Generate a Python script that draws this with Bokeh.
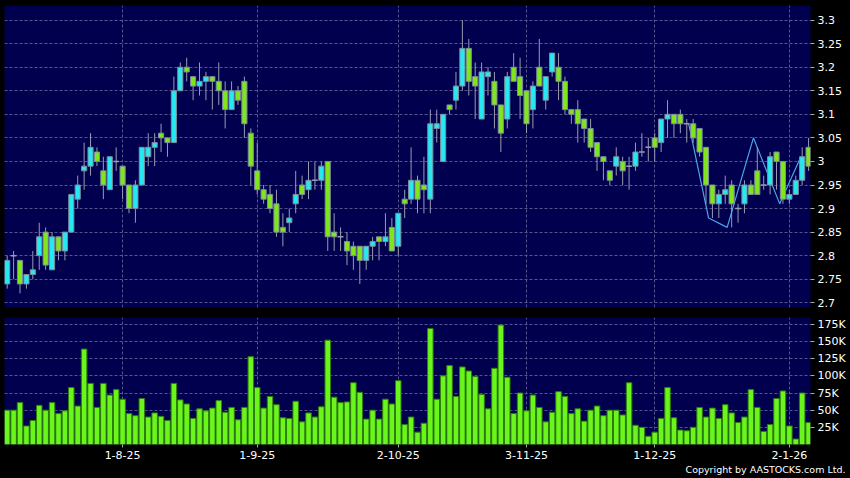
from bokeh.plotting import figure
from bokeh.layouts import column
from bokeh.models import FixedTicker, ColumnDataSource, Title, Range1d
from bokeh.embed import file_html
from bokeh.resources import INLINE

# ---------------- data ----------------
open_ = [2.74, 2.80, 2.79, 2.74, 2.76, 2.80, 2.85, 2.77, 2.84, 2.81,
         2.85, 2.92, 2.98, 2.99, 3.02, 2.98, 2.94, 3.00, 2.99, 2.95,
         2.90, 2.95, 3.01, 3.03, 3.06, 3.05, 3.04, 3.15, 3.20, 3.18,
         3.16, 3.17, 3.18, 3.17, 3.15, 3.11, 3.15, 3.17, 3.06, 2.98,
         2.94, 2.93, 2.91, 2.86, 2.87, 2.91, 2.95, 2.94, 2.96, 2.96,
         3.00, 2.85, 2.84, 2.83, 2.82, 2.82, 2.79, 2.82, 2.84, 2.83,
         2.86, 2.82, 2.92, 2.92, 2.96, 2.95, 2.92, 3.07, 3.00, 3.12,
         3.13, 3.16, 3.24, 3.18, 3.09, 3.18, 3.17, 3.12, 3.09, 3.20,
         3.18, 3.15, 3.11, 3.20, 3.13, 3.19, 3.20, 3.17, 3.11, 3.11,
         3.09, 3.07, 3.04, 3.01, 2.98, 2.99, 3.00, 2.99, 2.99, 3.02,
         3.03, 3.05, 3.04, 3.09, 3.10, 3.10, 3.08, 3.08, 3.07, 3.03,
         2.95, 2.91, 2.93, 2.95, 2.90, 2.91, 2.95, 2.98, 2.95, 2.95,
         3.02, 3.00, 2.92, 2.93, 2.96, 3.03]
high = [2.80, 2.81, 2.79, 2.76, 2.81, 2.87, 2.86, 2.85, 2.84, 2.85,
        2.93, 2.97, 3.04, 3.06, 3.03, 3.01, 3.01, 3.03, 2.99, 2.95,
        2.96, 3.03, 3.06, 3.06, 3.08, 3.05, 3.18, 3.21, 3.22, 3.18,
        3.21, 3.19, 3.18, 3.21, 3.17, 3.17, 3.16, 3.18, 3.07, 3.04,
        2.95, 2.95, 2.94, 2.89, 2.90, 2.98, 2.97, 3.00, 3.00, 3.00,
        3.00, 2.89, 2.86, 2.85, 2.83, 2.82, 2.82, 2.84, 2.84, 2.89,
        2.88, 2.89, 2.94, 3.03, 2.97, 3.01, 3.11, 3.11, 3.10, 3.12,
        3.19, 3.30, 3.26, 3.21, 3.21, 3.20, 3.19, 3.12, 3.19, 3.23,
        3.22, 3.15, 3.17, 3.26, 3.18, 3.23, 3.23, 3.18, 3.11, 3.13,
        3.09, 3.09, 3.04, 3.01, 2.98, 3.03, 3.01, 3.01, 3.04, 3.06,
        3.05, 3.06, 3.09, 3.13, 3.10, 3.11, 3.09, 3.09, 3.07, 3.03,
        2.95, 2.94, 2.97, 2.96, 2.91, 2.96, 2.96, 3.03, 2.97, 3.02,
        3.02, 3.00, 2.94, 2.97, 3.03, 3.05]
low = [2.73, 2.75, 2.72, 2.73, 2.75, 2.77, 2.77, 2.77, 2.79, 2.79,
       2.85, 2.90, 2.94, 2.97, 2.99, 2.92, 2.94, 2.98, 2.92, 2.89,
       2.87, 2.95, 2.99, 2.99, 3.02, 3.01, 3.04, 3.15, 3.17, 3.13,
       3.14, 3.13, 3.11, 3.12, 3.07, 3.11, 3.12, 3.05, 2.95, 2.93,
       2.91, 2.89, 2.84, 2.82, 2.85, 2.89, 2.92, 2.92, 2.94, 2.94,
       2.81, 2.81, 2.81, 2.78, 2.77, 2.74, 2.77, 2.79, 2.79, 2.82,
       2.81, 2.80, 2.88, 2.91, 2.89, 2.89, 2.89, 3.04, 3.00, 3.10,
       3.11, 3.15, 3.14, 3.09, 3.09, 3.14, 3.07, 3.02, 3.07, 3.17,
       3.09, 3.06, 3.07, 3.16, 3.11, 3.18, 3.13, 3.10, 3.08, 3.04,
       3.04, 3.02, 2.98, 2.96, 2.95, 2.97, 2.95, 2.94, 2.98, 3.01,
       3.00, 3.00, 3.02, 3.05, 3.05, 3.06, 3.04, 3.04, 3.01, 2.91,
       2.88, 2.88, 2.91, 2.86, 2.87, 2.89, 2.93, 2.93, 2.94, 2.93,
       2.94, 2.91, 2.91, 2.93, 2.95, 2.98]
close = [2.79, 2.80, 2.74, 2.76, 2.77, 2.84, 2.78, 2.84, 2.81, 2.85,
         2.93, 2.95, 2.99, 3.03, 3.00, 2.95, 3.01, 3.00, 2.95, 2.90,
         2.95, 3.03, 3.03, 3.04, 3.05, 3.04, 3.15, 3.20, 3.19, 3.16,
         3.17, 3.18, 3.17, 3.15, 3.11, 3.15, 3.13, 3.08, 2.99, 2.94,
         2.92, 2.90, 2.85, 2.85, 2.88, 2.93, 2.93, 2.96, 2.96, 2.99,
         2.84, 2.84, 2.84, 2.81, 2.80, 2.79, 2.82, 2.83, 2.83, 2.84,
         2.81, 2.89, 2.91, 2.96, 2.92, 2.94, 3.08, 3.08, 3.10, 3.11,
         3.16, 3.24, 3.17, 3.16, 3.19, 3.19, 3.12, 3.06, 3.18, 3.17,
         3.14, 3.08, 3.16, 3.16, 3.18, 3.23, 3.17, 3.11, 3.10, 3.08,
         3.07, 3.03, 3.01, 3.00, 2.96, 3.01, 2.98, 2.99, 3.02, 3.02,
         3.03, 3.03, 3.09, 3.10, 3.08, 3.08, 3.08, 3.05, 3.02, 2.95,
         2.91, 2.93, 2.94, 2.91, 2.90, 2.95, 2.93, 2.93, 2.95, 3.01,
         3.00, 2.92, 2.93, 2.96, 3.01, 2.99]
volume_k = [50, 50, 61, 27, 35, 57, 50, 61, 45, 49,
            83, 56, 139, 89, 54, 89, 72, 80, 66, 45,
            42, 67, 40, 46, 41, 35, 89, 65, 59, 38,
            52, 49, 53, 64, 47, 54, 36, 54, 128, 83,
            53, 70, 58, 39, 38, 63, 33, 46, 40, 55,
            152, 69, 61, 62, 90, 76, 37, 50, 37, 66,
            59, 93, 29, 40, 18, 31, 169, 66, 100, 115,
            70, 113, 107, 99, 73, 52, 111, 174, 98, 45,
            75, 49, 72, 54, 33, 47, 77, 70, 45, 52,
            34, 50, 56, 42, 50, 50, 43, 90, 28, 25,
            12, 18, 38, 83, 39, 21, 20, 25, 54, 40,
            53, 38, 58, 46, 32, 40, 80, 54, 19, 29,
            67, 78, 27, 8, 75, 32]

date_tick_pos = [18, 39, 61, 81, 101, 122]
date_tick_labels = ["1-8-25", "1-9-25", "2-10-25", "3-11-25", "1-12-25", "2-1-26"]

price_ticks = [2.7, 2.75, 2.8, 2.85, 2.9, 2.95, 3.0, 3.05, 3.1, 3.15, 3.2, 3.25, 3.3]
price_tick_labels = ["2.7", "2.75", "2.8", "2.85", "2.9", "2.95", "3", "3.05",
                     "3.1", "3.15", "3.2", "3.25", "3.3"]
vol_ticks = [25000, 50000, 75000, 100000, 125000, 150000, 175000]
vol_tick_labels = ["25K", "50K", "75K", "100K", "125K", "150K", "175K"]

trend_x = [106.3, 109.4, 112.3, 116.4, 120.5, 123.8]
trend_y = [3.08, 2.88, 2.86, 3.05, 2.91, 3.01]

# ---------------- styles ----------------
NAVY = "#00004e"
GRID = "#54548e"
CYAN = "#26e8f2"
GREEN = "#7fe61e"
BODY_LINE = "#7d8c9c"
WICK = "#9a9ab0"
VOL_FILL = "#6af51c"
VOL_LINE = "#2f7d0c"
TREND = "#4aa6e6"
FONT = "DejaVu Sans"

n = len(open_)
idx = list(range(n))
volume = [v * 1000 for v in volume_k]

up = [i for i in idx if close[i] > open_[i]]
dn = [i for i in idx if close[i] < open_[i]]
dj = [i for i in idx if close[i] == open_[i]]

x_range = Range1d(-0.42, 125.3)


def style_axis(ax):
    ax.axis_line_color = None
    ax.major_tick_line_color = "#a8a8a8"
    ax.major_tick_in = 0
    ax.major_tick_out = 4
    ax.minor_tick_line_color = None
    ax.major_label_text_color = "white"
    ax.major_label_text_font = FONT
    ax.major_label_text_font_size = "11px"
    ax.major_label_standoff = 3


def style_grid(g):
    g.grid_line_color = GRID
    g.grid_line_dash = "3 2"
    g.grid_line_width = 1


# ---------------- price panel ----------------
p1 = figure(width=850, height=317, x_range=x_range, y_range=Range1d(2.690, 3.331),
            x_axis_location=None, y_axis_location="right",
            output_backend="svg", toolbar_location=None,
            min_border_left=4, min_border_top=5, min_border_bottom=10,
            min_border_right=40,
            background_fill_color=NAVY, border_fill_color="black",
            outline_line_color=None)
style_axis(p1.yaxis[0])
pt = FixedTicker(ticks=price_ticks)
p1.yaxis.ticker = pt
p1.yaxis.major_label_overrides = dict(zip(price_ticks, price_tick_labels))
p1.ygrid.ticker = pt
p1.xgrid.ticker = FixedTicker(ticks=date_tick_pos)
style_grid(p1.xgrid[0])
style_grid(p1.ygrid[0])

p1.line(trend_x, trend_y, line_color=TREND, line_width=1.2)
p1.segment(x0=idx, y0=low, x1=idx, y1=high, line_color=WICK, line_width=1)

src_up = ColumnDataSource(dict(x=up, top=[close[i] for i in up], bottom=[open_[i] for i in up]))
src_dn = ColumnDataSource(dict(x=dn, top=[open_[i] for i in dn], bottom=[close[i] for i in dn]))
p1.vbar(x="x", top="top", bottom="bottom", width=0.8, source=src_up,
        fill_color=CYAN, line_color=BODY_LINE, line_width=1)
p1.vbar(x="x", top="top", bottom="bottom", width=0.8, source=src_dn,
        fill_color=GREEN, line_color=BODY_LINE, line_width=1)
p1.segment(x0=[i - 0.45 for i in dj], y0=[open_[i] for i in dj],
           x1=[i + 0.45 for i in dj], y1=[close[i] for i in dj],
           line_color=WICK, line_width=1.5)

# ---------------- volume panel ----------------
p2 = figure(width=850, height=161, x_range=x_range, y_range=Range1d(0, 185000),
            y_axis_location="right",
            output_backend="svg", toolbar_location=None,
            min_border_left=4, min_border_top=0, min_border_bottom=34,
            min_border_right=40,
            background_fill_color=NAVY, border_fill_color="black",
            outline_line_color=None)
style_axis(p2.yaxis[0])
style_axis(p2.xaxis[0])
p2.xaxis.major_tick_out = 3
vt = FixedTicker(ticks=vol_ticks)
p2.yaxis.ticker = vt
p2.yaxis.major_label_overrides = dict(zip(vol_ticks, vol_tick_labels))
p2.ygrid.ticker = vt
xt = FixedTicker(ticks=date_tick_pos)
p2.xaxis.ticker = xt
p2.xaxis.major_label_overrides = dict(zip(date_tick_pos, date_tick_labels))
p2.xgrid.ticker = xt
style_grid(p2.xgrid[0])
style_grid(p2.ygrid[0])

p2.vbar(x=idx, top=volume, bottom=0, width=0.86,
        fill_color=VOL_FILL, line_color=VOL_LINE, line_width=1)

copyright_title = Title(text="Copyright by AASTOCKS.com Ltd.", align="right",
                        text_color="white", text_font=FONT,
                        text_font_size="9.5px", text_font_style="normal",
                        standoff=0, offset=-35)
p2.add_layout(copyright_title, "below")

layout = column(p1, p2, spacing=0, styles={"background-color": "black"})

open("out.html", "w").write(file_html(layout, INLINE))
